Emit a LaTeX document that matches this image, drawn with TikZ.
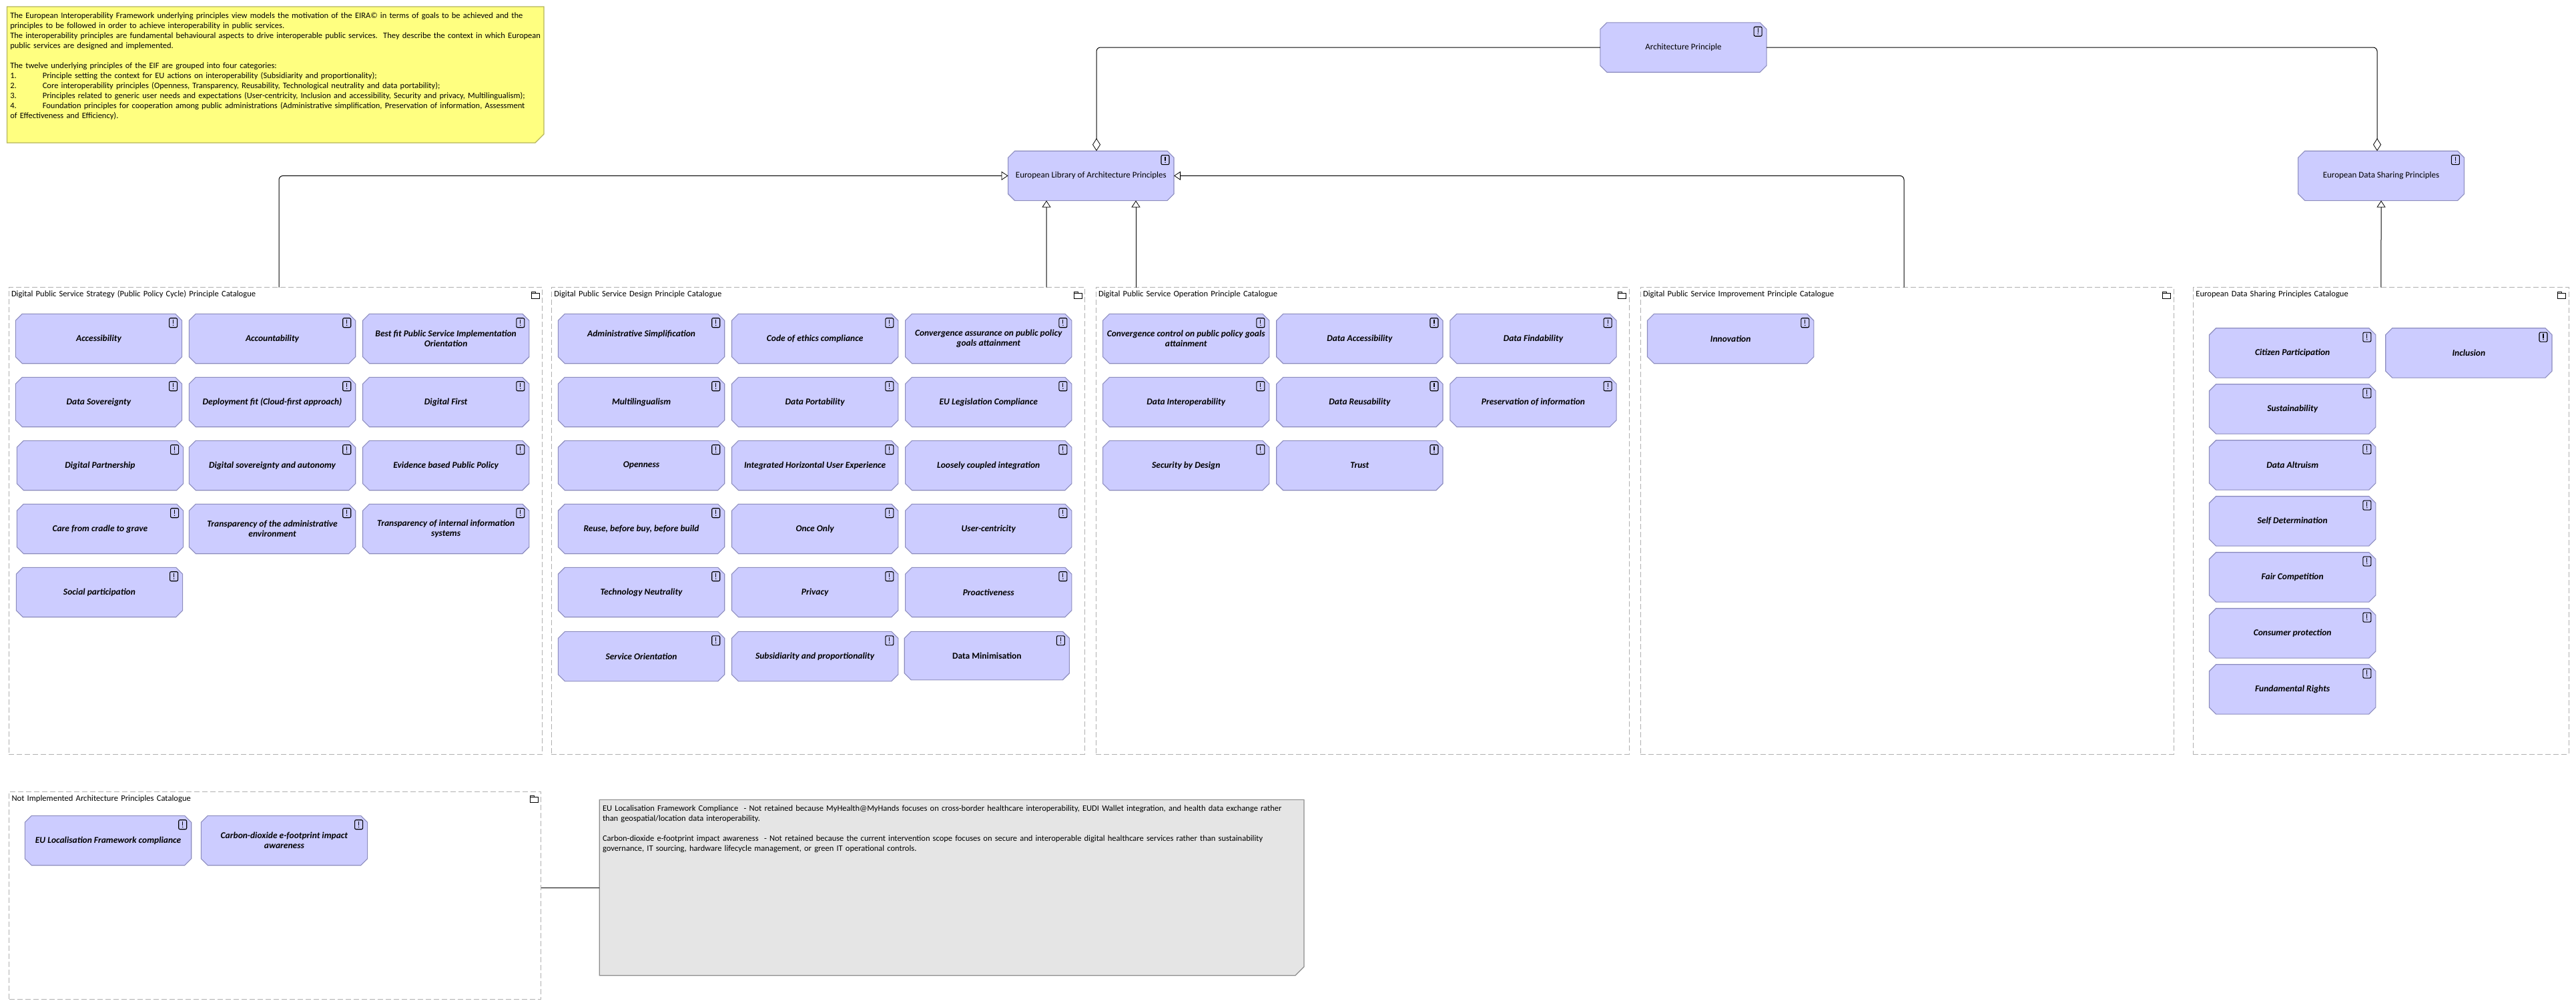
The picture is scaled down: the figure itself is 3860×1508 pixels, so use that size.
\documentclass[tikz,border=0pt]{standalone}
\usepackage{fontspec}
\setmainfont{Carlito}
\usepackage{tikz}
\usetikzlibrary{arrows.meta,positioning,calc}
\definecolor{prinfill}{HTML}{CCCCFF}
\definecolor{prinrule}{HTML}{8C8CBE}
\definecolor{noteyellow}{HTML}{FFFF80}
\definecolor{noterule}{HTML}{B4B45A}
\definecolor{notegrey}{HTML}{E5E5E5}
\definecolor{greyrule}{HTML}{8C8C8C}
\definecolor{catrule}{HTML}{B0B0B0}
\newcommand{\tabitem}[1]{\makebox[48.5pt][l]{#1}}
\newdimen\boxl \newdimen\boxb \newdimen\boxr \newdimen\boxt
\makeatletter
\newcommand{\boxcorners}{\southwest \boxl=\pgf@x \boxb=\pgf@y \northeast \boxr=\pgf@x \boxt=\pgf@y}
\makeatother
\newcommand{\boxanchors}{
  \inheritsavedanchors[from=rectangle]
  \inheritanchorborder[from=rectangle]
  \inheritanchor[from=rectangle]{center}
  \inheritanchor[from=rectangle]{north}
  \inheritanchor[from=rectangle]{south}
  \inheritanchor[from=rectangle]{east}
  \inheritanchor[from=rectangle]{west}
  \inheritanchor[from=rectangle]{north east}
  \inheritanchor[from=rectangle]{north west}
  \inheritanchor[from=rectangle]{south east}
  \inheritanchor[from=rectangle]{south west}
}
\pgfdeclareshape{octobox}{
  \boxanchors
  \backgroundpath{
    \boxcorners
    \pgfpathmoveto{\pgfqpoint{\boxl}{\dimexpr\boxb+10pt\relax}}
    \pgfpathlineto{\pgfqpoint{\boxl}{\dimexpr\boxt-10pt\relax}}
    \pgfpathlineto{\pgfqpoint{\dimexpr\boxl+10pt\relax}{\boxt}}
    \pgfpathlineto{\pgfqpoint{\dimexpr\boxr-10pt\relax}{\boxt}}
    \pgfpathlineto{\pgfqpoint{\boxr}{\dimexpr\boxt-10pt\relax}}
    \pgfpathlineto{\pgfqpoint{\boxr}{\dimexpr\boxb+10pt\relax}}
    \pgfpathlineto{\pgfqpoint{\dimexpr\boxr-10pt\relax}{\boxb}}
    \pgfpathlineto{\pgfqpoint{\dimexpr\boxl+10pt\relax}{\boxb}}
    \pgfpathclose
  }
}
\pgfdeclareshape{foldbox}{
  \boxanchors
  \backgroundpath{
    \boxcorners
    \pgfpathmoveto{\pgfqpoint{\boxl}{\boxb}}
    \pgfpathlineto{\pgfqpoint{\boxl}{\boxt}}
    \pgfpathlineto{\pgfqpoint{\boxr}{\boxt}}
    \pgfpathlineto{\pgfqpoint{\boxr}{\dimexpr\boxb+13pt\relax}}
    \pgfpathlineto{\pgfqpoint{\dimexpr\boxr-13pt\relax}{\boxb}}
    \pgfpathclose
  }
}

\begin{document}
\begin{tikzpicture}[
  x=1pt,y=-1pt,
  font=\fontsize{13}{15}\selectfont,
  node distance=20.6pt and 10.8pt,
  plainbox/.style={octobox,draw=prinrule,fill=prinfill,line width=1.1pt,outer sep=0pt,inner sep=0pt,
              align=center,minimum width=249.3pt,minimum height=74.4pt,
              path picture={
                \draw[solid,black,line width=1.1pt,rounded corners=2pt]
                  ($(path picture bounding box.north east)+(-19,6.4)$) rectangle +(12,14);
                \draw[solid,black,line width=1.1pt]
                  ($(path picture bounding box.north east)+(-13,8.6)$) -- +(0,6.4);
                \fill[black] ($(path picture bounding box.north east)+(-13,17)$) circle (0.8);
              }},
  prin/.style={plainbox,font=\fontsize{13.5}{15}\selectfont\bfseries\itshape},
  catbox/.style n args={2}{rectangle,draw=catrule,dash pattern=on 8pt off 4pt,line width=1pt,
              font=\fontsize{12.6}{15}\selectfont,
              anchor=north west,align=left,outer sep=0pt,inner xsep=4pt,inner ysep=4pt,
              text width={#1pt-8pt},text height=10pt,text depth={#2pt-18pt},
              path picture={
                \draw[solid,black,line width=0.8pt]
                  ($(path picture bounding box.north east)+(-16.6,8.6)$) rectangle +(12,7.7);
                \draw[solid,black,line width=0.8pt]
                  ($(path picture bounding box.north east)+(-16.6,8.6)$) -- +(0,-2.3) -- +(6,-2.3) -- +(6,0);
              }},
  notebox/.style n args={2}{foldbox,font=\fontsize{12.5}{15}\selectfont,
              anchor=north west,align=left,outer sep=0pt,inner xsep=4.8pt,inner ysep=5.5pt,line width=1.1pt,
              text width={#1pt-9.6pt},text height=12pt,text depth={#2pt-23pt}},
  gen/.style={-{Triangle[open,length=10pt,width=13pt,line width=0.8pt]},draw=black,line width=1pt,rounded corners=6pt},
  agg/.style={-{Diamond[open,length=19pt,width=12pt,line width=0.8pt]},draw=black,line width=1pt,rounded corners=6pt},
  assoc/.style={draw=black,line width=1pt}
]
\useasboundingbox (0,0) rectangle (3860,1508);

\node[notebox={804.5}{204},draw=noterule,fill=noteyellow] (eifnote) at (10.5,10) {The European Interoperability Framework underlying principles view models the motivation of the EIRA© in terms of goals to be achieved and the\\
principles to be followed in order to achieve interoperability in public services.\\
The interoperability principles are fundamental behavioural aspects to drive interoperable public services.\ \ They describe the context in which European\\
public services are designed and implemented.\\
\mbox{}\\
The twelve underlying principles of the EIF are grouped into four categories:\\
\tabitem{1.}Principle setting the context for EU actions on interoperability (Subsidiarity and proportionality);\\
\tabitem{2.}Core interoperability principles (Openness, Transparency, Reusability, Technological neutrality and data portability);\\
\tabitem{3.}Principles related to generic user needs and expectations (User-centricity, Inclusion and accessibility, Security and privacy, Multilingualism);\\
\tabitem{4.}Foundation principles for cooperation among public administrations (Administrative simplification, Preservation of information, Assessment\\
of Effectiveness and Efficiency).};

\node[plainbox] (archprin) at (2522.5,71) {Architecture Principle};
\node[plainbox,minimum width=248.4pt] (libeu) at (1634.8,263.4) {European Library of Architecture Principles};
\node[plainbox,minimum width=248.8pt] (libdata) at (3568,263.4) {European Data Sharing Principles};

\node[catbox={799.6}{699.4}] (catstrategy) at (13,430.6) {Digital Public Service Strategy (Public Policy Cycle) Principle Catalogue};
\node[prin,anchor=north west] (accessibility) at (23.3,470.3) {Accessibility};
\node[prin,right=of accessibility] (accountability) {Accountability};
\node[prin,right=of accountability] (bestfit) {Best fit Public Service Implementation\\Orientation};
\node[prin,below=of accessibility] (sovereignty) {Data Sovereignty};
\node[prin,below=of accountability] (deployment) {Deployment fit (Cloud-first approach)};
\node[prin,below=of bestfit] (digitalfirst) {Digital First};
\node[prin,below=of sovereignty,xshift=2pt] (partnership) {Digital Partnership};
\node[prin,below=of deployment] (autonomy) {Digital sovereignty and autonomy};
\node[prin,below=of digitalfirst] (evidence) {Evidence based Public Policy};
\node[prin,below=of partnership] (cradle) {Care from cradle to grave};
\node[prin,below=of autonomy] (transadmin) {Transparency of the administrative\\environment};
\node[prin,below=of evidence] (transinfo) {Transparency of internal information\\systems};
\node[prin,below=of cradle,xshift=-1pt] (social) {Social participation};

\node[catbox={799.3}{699.4}] (catdesign) at (826.4,430.6) {Digital Public Service Design Principle Catalogue};
\node[prin,anchor=north west] (adminsimple) at (836.4,470.3) {Administrative Simplification\\\mbox{}};
\node[prin,right=of adminsimple] (ethics) {Code of ethics compliance};
\node[prin,right=of ethics] (convassure) {Convergence assurance on public policy\\goals attainment};
\node[prin,below=of adminsimple] (multiling) {Multilingualism};
\node[prin,below=of ethics] (portability) {Data Portability};
\node[prin,below=of convassure] (legislation) {EU Legislation Compliance};
\node[prin,below=of multiling] (openness) {Openness};
\node[prin,below=of portability] (horizontal) {Integrated Horizontal User Experience};
\node[prin,below=of legislation] (loosely) {Loosely coupled integration};
\node[prin,below=of openness] (reuse) {Reuse, before buy, before build};
\node[prin,below=of horizontal] (onceonly) {Once Only};
\node[prin,below=of loosely] (usercentric) {User-centricity};
\node[prin,below=of reuse] (neutrality) {Technology Neutrality};
\node[prin,below=of onceonly] (privacy) {Privacy};
\node[prin,below=of usercentric] (proactive) {Proactiveness};
\node[prin,below=21.7pt of neutrality] (orientation) {Service Orientation};
\node[prin,below=21.7pt of privacy] (subsidiarity) {Subsidiarity and proportionality};
\node[plainbox,font=\fontsize{13.5}{15}\selectfont\bfseries,anchor=north west,minimum width=247.2pt,minimum height=72.4pt] (minimisation) at (1355.2,946.4) {Data Minimisation};

\node[catbox={799}{699.4}] (catoperation) at (1642,430.6) {Digital Public Service Operation Principle Catalogue};
\node[prin,anchor=north west] (convcontrol) at (1652.6,470.3) {Convergence control on public policy goals\\attainment};
\node[prin,right=of convcontrol] (accessdata) {Data Accessibility};
\node[prin,right=of accessdata] (findable) {Data Findability};
\node[prin,below=of convcontrol] (interop) {Data Interoperability};
\node[prin,below=of accessdata] (reusable) {Data Reusability};
\node[prin,below=of findable] (preserve) {Preservation of information};
\node[prin,below=of interop] (security) {Security by Design};
\node[prin,below=of reusable] (trust) {Trust};

\node[catbox={799}{699.4}] (catimprove) at (2458,430.6) {Digital Public Service Improvement Principle Catalogue};
\node[prin,anchor=north west] (innovation) at (2468.5,470.3) {Innovation};

\node[catbox={563}{699.4}] (catdata) at (3286.4,430.6) {European Data Sharing Principles Catalogue};
\node[prin,anchor=north west] (citizen) at (3310.5,491.7) {Citizen Participation};
\node[prin,right=14.9pt of citizen] (inclusion) {Inclusion};
\node[prin,below=9.6pt of citizen] (sustain) {Sustainability};
\node[prin,below=9.6pt of sustain] (altruism) {Data Altruism};
\node[prin,below=9.6pt of altruism] (selfdet) {Self Determination};
\node[prin,below=9.6pt of selfdet] (fair) {Fair Competition};
\node[prin,below=9.6pt of fair] (consumer) {Consumer protection};
\node[prin,below=9.6pt of consumer] (rights) {Fundamental Rights};

\node[catbox={797.2}{311}] (catnot) at (13.5,1186) {Not Implemented Architecture Principles Catalogue};
\node[prin,anchor=north west] (localisation) at (37.4,1222.3) {EU Localisation Framework compliance};
\node[prin,right=14.6pt of localisation] (carbon) {Carbon-dioxide e-footprint impact\\awareness};

\node[notebox={1055.8}{263.4},draw=greyrule,fill=notegrey] (notretained) at (898.2,1198.3) {EU Localisation Framework Compliance\ \ - Not retained because MyHealth@MyHands focuses on cross-border healthcare interoperability, EUDI Wallet integration, and health data exchange rather\\
than geospatial/location data interoperability.\\
\mbox{}\\
Carbon-dioxide e-footprint impact awareness\ \ - Not retained because the current intervention scope focuses on secure and interoperable digital healthcare services rather than sustainability\\
governance, IT sourcing, hardware lifecycle management, or green IT operational controls.};

\draw[agg] (archprin.west) -| ([xshift=8.2pt]libeu.north);
\draw[agg] (archprin.east) -| ([xshift=-6pt]libdata.north);
\draw[gen] ([xshift=5.2pt]catstrategy.north) |- (libeu.west);
\draw[gen] ([xshift=-4.5pt]catimprove.north) |- (libeu.east);
\draw[gen] ([xshift=342pt]catdesign.north) -- ([xshift=-66.8pt]libeu.south);
\draw[gen] ([xshift=-339.5pt]catoperation.north) -- ([xshift=67.2pt]libeu.south);
\draw[gen] (catdata.north) -- (libdata.south);
\draw[assoc] (catnot.east |- 0,1330.3) -- (notretained.west |- 0,1330.3);
\end{tikzpicture}
\end{document}
